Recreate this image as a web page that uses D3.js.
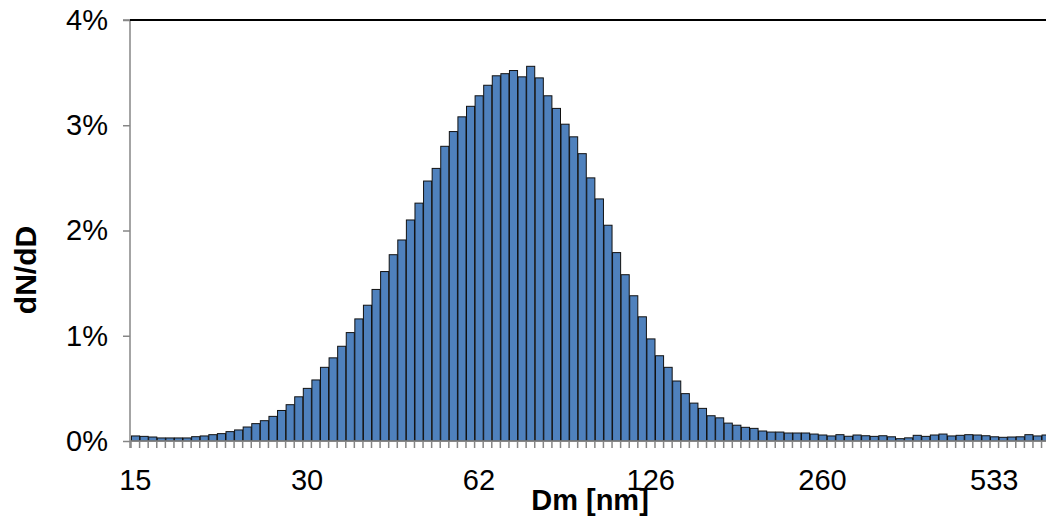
<!DOCTYPE html>
<html>
<head>
<meta charset="utf-8">
<script src="https://cdn.jsdelivr.net/npm/d3@7"></script>
<style>
  body { margin: 0; background: #fff; }
  text { font-family: "Liberation Sans", Arial, sans-serif; }
</style>
</head>
<body>
<div id="chart"></div>
<script>
// particle diameter per channel (nm), 64 channels per decade
const dm = [14.6, 15.1, 15.7, 16.3, 16.9, 17.5, 18.1, 18.8, 19.5, 20.2,
  20.9, 21.7, 22.5, 23.3, 24.2, 25.0, 26.0, 26.9, 27.9, 28.9,
  30.0, 31.1, 32.2, 33.4, 34.6, 35.9, 37.2, 38.6, 40.0, 41.4,
  43.0, 44.5, 46.2, 47.9, 49.6, 51.4, 53.3, 55.3, 57.3, 59.4,
  61.6, 63.8, 66.2, 68.6, 71.1, 73.7, 76.4, 79.2, 82.1, 85.1,
  88.2, 91.5, 94.8, 98.3, 101.9, 105.6, 109.5, 113.5, 117.6, 122.0,
  126.4, 131.1, 135.9, 140.8, 146.0, 151.4, 156.9, 162.6, 168.6, 174.8,
  181.2, 187.8, 194.7, 201.8, 209.2, 216.9, 224.8, 233.1, 241.6, 250.4,
  259.6, 269.1, 279.0, 289.2, 299.8, 310.8, 322.1, 333.9, 346.2, 358.9,
  372.0, 385.6, 399.7, 414.4, 429.6, 445.3, 461.7, 478.6, 496.1, 514.3,
  533.1, 552.7, 572.9, 593.9, 615.6, 638.2, 661.6];

// dN/dD in percent
const dNdD = [0.048, 0.044, 0.038, 0.029, 0.029, 0.029, 0.029, 0.041, 0.048, 0.06,
  0.07, 0.089, 0.105, 0.133, 0.165, 0.193, 0.234, 0.29, 0.345, 0.42,
  0.50, 0.58, 0.70, 0.79, 0.90, 1.03, 1.16, 1.29, 1.44, 1.61,
  1.77, 1.91, 2.10, 2.26, 2.47, 2.59, 2.80, 2.94, 3.08, 3.18,
  3.28, 3.38, 3.47, 3.49, 3.52, 3.46, 3.56, 3.45, 3.28, 3.16,
  3.01, 2.89, 2.73, 2.50, 2.30, 2.05, 1.79, 1.58, 1.38, 1.18,
  0.97, 0.81, 0.70, 0.57, 0.45, 0.36, 0.31, 0.24, 0.22, 0.17,
  0.15, 0.13, 0.12, 0.095, 0.085, 0.085, 0.076, 0.076, 0.076, 0.066,
  0.057, 0.048, 0.06, 0.045, 0.057, 0.05, 0.044, 0.05, 0.04, 0.022,
  0.03, 0.054, 0.044, 0.057, 0.066, 0.048, 0.054, 0.06, 0.057, 0.05,
  0.04, 0.035, 0.038, 0.04, 0.06, 0.048, 0.057];

const xLabels = ["15", "30", "62", "126", "260", "533"];
const yTicks = [0, 0.01, 0.02, 0.03, 0.04];

const width = 1046, height = 519;
const mLeft = 131, mTop = 20, mBottom = 441;
const barW = 8.59;

const data = dm.map((d, i) => ({ dm: d, value: dNdD[i] / 100 }));

const svg = d3.select("#chart").append("svg")
  .attr("width", width)
  .attr("height", height);

const x = d3.scaleBand()
  .domain(dm)
  .range([mLeft, mLeft + dm.length * barW])
  .padding(0);

const y = d3.scaleLinear()
  .domain([0, 0.04])
  .range([mBottom, mTop]);

const axisGray = "#868686";

// bars
svg.append("g")
  .selectAll("rect")
  .data(data)
  .join("rect")
    .attr("x", d => x(d.dm) + 0.5)
    .attr("y", d => y(d.value))
    .attr("width", x.bandwidth() - 0.5)
    .attr("height", d => y(0) - y(d.value))
    .attr("fill", "#4f81bd")
    .attr("stroke", "#111")
    .attr("stroke-width", 1);

// y axis
const yAxis = svg.append("g")
  .attr("transform", `translate(${mLeft - 1},0)`)
  .call(d3.axisLeft(y).tickValues(yTicks).tickFormat(d3.format(".0%")).tickSize(7).tickPadding(15));
yAxis.selectAll("line, path").attr("stroke", axisGray).attr("stroke-width", 1.5);
yAxis.select(".domain").attr("d", `M-7,${y(0.04)}H0V${mBottom + 7}`);
yAxis.selectAll("text")
  .attr("fill", "#000")
  .style("font-size", "29px");

// top frame line
svg.append("line")
  .attr("x1", mLeft - 1).attr("x2", width)
  .attr("y1", y(0.04)).attr("y2", y(0.04))
  .attr("stroke", "#000").attr("stroke-width", 2);

// x axis: line and a tick at every channel boundary
const xAxis = svg.append("g")
  .attr("transform", `translate(0,${mBottom})`);
xAxis.append("line")
  .attr("x1", mLeft - 1).attr("x2", width)
  .attr("stroke", axisGray).attr("stroke-width", 1.5);
xAxis.selectAll(".tk")
  .data(dm)
  .join("line")
    .attr("class", "tk")
    .attr("x1", d => x(d)).attr("x2", d => x(d))
    .attr("y1", 0).attr("y2", 7)
    .attr("stroke", axisGray).attr("stroke-width", 1.5);

// x labels on selected channels
const labelled = xLabels.map(l => dm.find(d => Math.round(d) === +l));
const xLab = svg.append("g")
  .attr("transform", `translate(0,${mBottom})`)
  .call(d3.axisBottom(x).tickValues(labelled)
    .tickFormat(d => xLabels[labelled.indexOf(d)])
    .tickSize(0).tickPadding(28));
xLab.select(".domain").remove();
xLab.selectAll("text").attr("fill", "#000").style("font-size", "29px");

// axis titles
svg.append("text")
  .attr("x", 590).attr("y", 510)
  .attr("text-anchor", "middle")
  .style("font-size", "29px")
  .style("font-weight", "bold")
  .text("Dm [nm]");

svg.append("text")
  .attr("transform", "translate(36,270) rotate(-90)")
  .attr("text-anchor", "middle")
  .style("font-size", "30px")
  .style("font-weight", "bold")
  .text("dN/dD");
</script>
</body>
</html>
